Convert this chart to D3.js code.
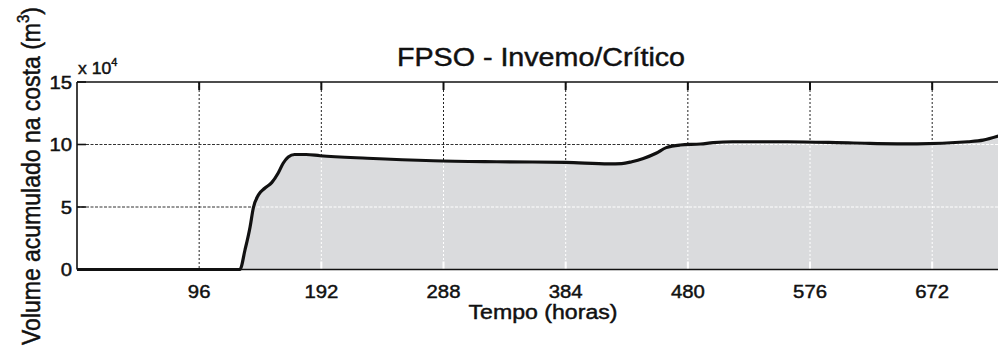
<!DOCTYPE html>
<html>
<head>
<meta charset="utf-8">
<script src="https://cdn.jsdelivr.net/npm/d3@7"></script>
<style>
  html, body { margin: 0; padding: 0; background: #fff; }
  svg { display: block; }
  text { font-family: "Liberation Sans", Arial, Helvetica, sans-serif; fill: #111; stroke: #111; stroke-width: 0.45px; }
</style>
</head>
<body>
<svg id="chart" width="998" height="348"></svg>
<script>
// ---- data ----
const hours  = [0, 128, 132, 136, 138.5, 142.5, 147.5, 153, 158, 162, 166, 171, 180, 191, 228, 280, 330, 384, 418, 428, 436, 445, 455, 463, 474, 490, 500, 515, 558, 610, 660, 700, 712, 724];
const volume = [0, 0, 1.56, 3.4, 4.9, 5.96, 6.5, 6.95, 7.7, 8.5, 9.0, 9.2, 9.2, 9.1, 8.9, 8.7, 8.62, 8.57, 8.45, 8.47, 8.62, 8.88, 9.3, 9.75, 9.96, 10.04, 10.15, 10.22, 10.22, 10.12, 10.05, 10.22, 10.35, 10.68];
const xTicks = [96, 192, 288, 384, 480, 576, 672];
const yTicks = [0, 5, 10, 15];
const title = "FPSO - Invemo/Crítico";
const xLabel = "Tempo (horas)";
const yLabelMain = "Volume acumulado na costa (m";
const yLabelSup = "3";
const yLabelEnd = ")";
const exponent = "4";

(function () {
const data = hours.map((h, i) => ({ h, v: volume[i] }));

const svg = d3.select("#chart");
const pLeft = 77, pTop = 82, pBottom = 269.5, pRight = 1006;
const x = d3.scaleLinear().domain([0, 730]).range([pLeft, pRight]);
const y = d3.scaleLinear().domain([0, 15]).range([pBottom, pTop]);

const defs = svg.append("defs");

// black dotted grid (visible above the curve)
const grid = svg.append("g");
grid.selectAll("line.v").data(xTicks).join("line")
  .attr("x1", d => x(d)).attr("x2", d => x(d))
  .attr("y1", y(15)).attr("y2", y(0))
  .attr("stroke", "#222").attr("stroke-width", 1).attr("stroke-dasharray", "2,2");
grid.selectAll("line.h").data(yTicks.filter(d => d > 0 && d < 15)).join("line")
  .attr("x1", x(0)).attr("x2", pRight)
  .attr("y1", d => y(d)).attr("y2", d => y(d))
  .attr("stroke", "#333").attr("stroke-width", 1).attr("stroke-dasharray", "3,1.5");

// area fill
const area = d3.area().x(d => x(d.h)).y0(y(0)).y1(d => y(d.v));
svg.append("path").datum(data).attr("d", area).attr("fill", "#dadbdd");

// white dotted grid inside the filled region
defs.append("clipPath").attr("id", "areaClip")
  .append("path").datum(data).attr("d", area);
const wgrid = svg.append("g").attr("clip-path", "url(#areaClip)");
wgrid.selectAll("line.v").data(xTicks).join("line")
  .attr("x1", d => x(d)).attr("x2", d => x(d))
  .attr("y1", y(15)).attr("y2", y(0))
  .attr("stroke", "#fff").attr("stroke-width", 1).attr("stroke-dasharray", "2,2");
wgrid.selectAll("line.h").data(yTicks.filter(d => d > 0 && d < 15)).join("line")
  .attr("x1", x(0)).attr("x2", pRight)
  .attr("y1", d => y(d)).attr("y2", d => y(d))
  .attr("stroke", "#fff").attr("stroke-width", 1).attr("stroke-dasharray", "3,1.5");
wgrid.selectAll("line.bt").data(xTicks).join("line")
  .attr("x1", d => x(d)).attr("x2", d => x(d))
  .attr("y1", y(0)).attr("y2", y(0) - 8)
  .attr("stroke", "#fff").attr("stroke-width", 2);

// frame: top, left, bottom
svg.append("line").attr("x1", x(0)).attr("x2", pRight).attr("y1", y(15)).attr("y2", y(15))
  .attr("stroke", "#111").attr("stroke-width", 1.6);
svg.append("line").attr("x1", x(0)).attr("x2", x(0)).attr("y1", y(15)).attr("y2", y(0))
  .attr("stroke", "#111").attr("stroke-width", 1.6);
svg.append("line").attr("x1", x(0)).attr("x2", pRight).attr("y1", y(0)).attr("y2", y(0))
  .attr("stroke", "#111").attr("stroke-width", 1.6);

// top ticks
svg.selectAll("line.tt").data(xTicks).join("line")
  .attr("x1", d => x(d)).attr("x2", d => x(d))
  .attr("y1", y(15)).attr("y2", y(15) + 8)
  .attr("stroke", "#111").attr("stroke-width", 2);
// left ticks
svg.selectAll("line.lt").data(yTicks).join("line")
  .attr("x1", x(0)).attr("x2", x(0) + 9)
  .attr("y1", d => y(d)).attr("y2", d => y(d))
  .attr("stroke", "#111").attr("stroke-width", 1.6);

// data line
const line = d3.line().x(d => x(d.h)).y(d => y(d.v)).curve(d3.curveMonotoneX);
svg.append("path").datum(data).attr("d", line)
  .attr("fill", "none").attr("stroke", "#111").attr("stroke-width", 3.2)
  .attr("stroke-linejoin", "round");

// x tick labels
svg.selectAll("text.xt").data(xTicks).join("text")
  .attr("transform", d => `translate(${x(d)},298) scale(1.13,1)`)
  .attr("text-anchor", "middle").attr("font-size", 18)
  .text(d => d);
// y tick labels
svg.selectAll("text.yt").data(yTicks).join("text")
  .attr("transform", d => `translate(72,${y(d) + 6.5}) scale(1.13,1)`)
  .attr("text-anchor", "end").attr("font-size", 18)
  .text(d => d);

// exponent label
const ex = svg.append("text").attr("transform", "translate(78,74) scale(1.1,1)").attr("font-size", 16);
ex.append("tspan").text("x 10");
ex.append("tspan").attr("font-size", 10).attr("dy", -8).text(exponent);

// title
svg.append("text").attr("x", 541).attr("y", 66).attr("text-anchor", "middle")
  .attr("font-size", 25).attr("textLength", 288).attr("lengthAdjust", "spacingAndGlyphs")
  .text(title);

// x label
svg.append("text").attr("x", 543).attr("y", 319).attr("text-anchor", "middle")
  .attr("font-size", 20).attr("textLength", 149).attr("lengthAdjust", "spacingAndGlyphs")
  .text(xLabel);

// y label
const yl = svg.append("text")
  .attr("transform", "translate(40,176) rotate(-90) scale(1,1.1)")
  .attr("text-anchor", "middle").attr("font-size", 23);
yl.append("tspan").text(yLabelMain);
yl.append("tspan").attr("font-size", 15).attr("dy", -10).text(yLabelSup);
yl.append("tspan").attr("dy", 10).text(yLabelEnd);
})();
</script>
</body>
</html>
